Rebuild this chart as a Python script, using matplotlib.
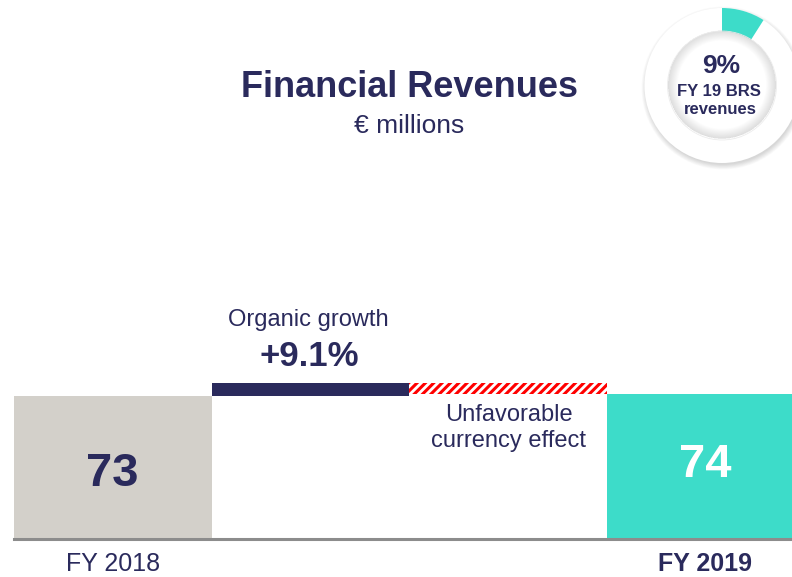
import matplotlib.pyplot as plt
from matplotlib.patches import Circle, Wedge

plt.rcParams['font.family'] = ['Liberation Sans', 'DejaVu Sans']
plt.rcParams['hatch.linewidth'] = 2.2

# data (EUR millions)
labels = ['FY 2018', 'Organic growth', 'Currency', 'FY 2019']
fy2018 = 73
organic = 6.6
currency = -5.6
fy2019 = 74
organic_pct = '+9.1%'
brs_share = 9  # % of FY 19 BRS revenues

NAVY = '#2a2a5c'
TEAL = '#3ddcc9'
GREY = '#d3d0ca'
W, H = 792, 577

fig = plt.figure(figsize=(7.92, 5.77), dpi=100)
fig.patch.set_facecolor('white')

# waterfall
ax = fig.add_axes([14 / W, 38 / H, 790 / W, 196 / H])
ax.set_xlim(-0.5, 3.5)
ax.set_ylim(0, 100)
ax.bar(0, fy2018, width=1, color=GREY, zorder=1)
ax.bar(1, organic, bottom=fy2018, width=1, color=NAVY, zorder=1)
ax.bar(2, -currency, bottom=fy2018 + organic + currency, width=1, facecolor='white',
       edgecolor='red', hatch='////', linewidth=0, zorder=1)
ax.bar(3, fy2019, width=1, color=TEAL, zorder=1)

for s in ['top', 'left', 'right']:
    ax.spines[s].set_visible(False)
ax.spines['bottom'].set_color('#8c8c8c')
ax.spines['bottom'].set_linewidth(2.2)
ax.set_xticks([])
ax.set_yticks([])
ax.patch.set_alpha(0)

ax.text(0, 33.2, str(fy2018), ha='center', va='center', fontsize=34,
        fontweight='bold', color=NAVY)
ax.text(3, 37.8, str(fy2019), ha='center', va='center', fontsize=34,
        fontweight='bold', color='white')

tr = ax.get_xaxis_transform()
ax.text(0, -0.128, labels[0], transform=tr, ha='center', va='center',
        fontsize=18, color=NAVY)
ax.text(3, -0.128, labels[3], transform=tr, ha='center', va='center',
        fontsize=18, fontweight='bold', color=NAVY)

# annotations
fig.text(308 / W, 1 - 320 / H, 'Organic growth', ha='center', va='center',
         fontsize=17, color=NAVY)
fig.text(309 / W, 1 - 357 / H, organic_pct, ha='center', va='center',
         fontsize=25, fontweight='bold', color=NAVY)
fig.text(509 / W, 1 - 428 / H, 'Unfavorable\ncurrency effect', ha='center',
         va='center', fontsize=17, color=NAVY, linespacing=1.2)

# title
fig.text(410 / W, 1 - 87 / H, 'Financial Revenues', ha='center', va='center',
         fontsize=26, fontweight='bold', color=NAVY)
fig.text(409 / W, 1 - 126 / H, '\u20ac millions', ha='center', va='center',
         fontsize=19, color=NAVY)

# donut badge, axes in pixel units
cx, cy, R, r_in = 722, 85.5, 77.5, 54
dax = fig.add_axes([(cx - 90) / W, 1 - (cy + 90) / H, 180 / W, 180 / H])
dax.set_xlim(-90, 90)
dax.set_ylim(-90, 90)
dax.axis('off')
for i in range(8):
    dax.add_patch(Circle((1, -2.5), R + 4 - i * 0.7, color='black', alpha=0.02, lw=0))
dax.add_patch(Circle((0, 0), R, color='white', lw=0))
dax.add_patch(Wedge((0, 0), R, 90 - 360 * brs_share / 100, 90, width=R - r_in,
                    color=TEAL, lw=0))
dax.add_patch(Circle((0, 0), r_in, color='white', lw=0))
for i in range(1, 12):
    dax.add_patch(Wedge((0, 0.8), r_in, 0, 360, width=i * 0.9, color='black',
                        alpha=0.013, lw=0))
dax.add_patch(Circle((0, 0), r_in + 0.5, fill=False, ec='#ececec', lw=0.6))

fig.text(721 / W, 1 - 66 / H, f'{brs_share}%', ha='center', va='center',
         fontsize=19, fontweight='bold', color=NAVY)
fig.text(719 / W, 1 - 91 / H, 'FY 19 BRS', ha='center', va='center',
         fontsize=12, fontweight='bold', color=NAVY)
fig.text(720 / W, 1 - 110 / H, 'revenues', ha='center', va='center',
         fontsize=12, fontweight='bold', color=NAVY)

fig.savefig('out.png', dpi=100)
